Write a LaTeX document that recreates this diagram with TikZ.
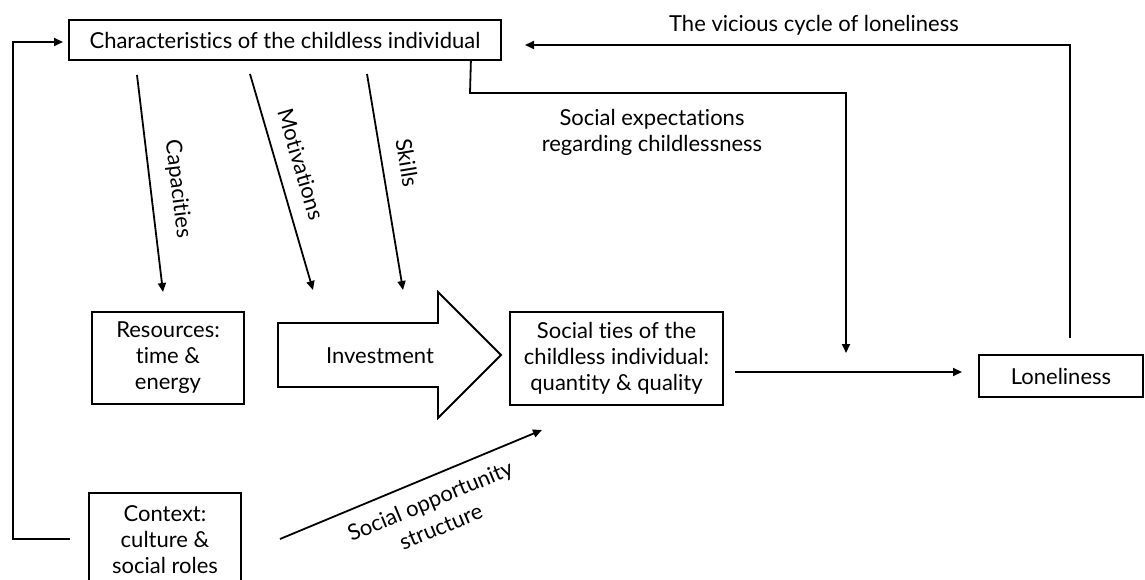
\documentclass[tikz,border=0pt]{standalone}
\usepackage{fontspec}
\setmainfont{Lato}[Ligatures=NoCommon]
\usetikzlibrary{arrows.meta,calc}
\newcommand\dfont{\fontsize{22}{26}\selectfont}

\begin{document}
\begin{tikzpicture}[x=1pt,y=-1pt,
  box/.style={draw, line width=1.8pt, align=center, inner sep=0pt, font=\dfont},
  lab/.style={inner sep=0pt, font=\dfont},
  arr/.style={-{Triangle[length=9pt,width=8pt]}, line width=1.8pt},
  plain/.style={line width=1.8pt}]

% canvas
\fill[white] (0,0) rectangle (1145,580);
\useasboundingbox (0,0) rectangle (1145,580);

% boxes
\node[box, minimum width=432, minimum height=40] (char) at (285,40)
  {Characteristics of the childless individual};
\node[box, minimum width=152, minimum height=92] (res) at (168,358)
  {Resources:\\time \&\\energy};
\node[box, minimum width=213, minimum height=93] (ties) at (616.5,358.5)
  {Social ties of the\\childless individual:\\quantity \& quality};
\node[box, minimum width=164, minimum height=42] (lone) at (1061,376)
  {Loneliness};
\node[box, minimum width=152, minimum height=94] (ctx) at (165,540)
  {Context:\\culture \&\\social roles};

% the broad investment arrow
\draw[plain, line join=miter] (278,323) -- (438,323) -- (438,292) -- (501,355)
  -- (438,418) -- (438,387) -- (278,387) -- cycle;
\node[lab] (inv) at (380,356) {Investment};

% free ends of the connectors
\coordinate (capA) at (137,75);   \coordinate (capB) at (163,292);
\coordinate (motA) at (250,74);   \coordinate (motB) at (313,290);
\coordinate (sklA) at (367,74);   \coordinate (sklB) at (403,290);
\coordinate (oppA) at (280,539);  \coordinate (oppB) at (542,430);
\coordinate (tiesOut) at (735,372); \coordinate (loneIn) at (962,372);
\coordinate (expIn) at (846,353);
\coordinate (loopOut) at (1070,338); \coordinate (loopIn) at (525,45);
\coordinate (ctxOut) at (70,539);  \coordinate (charIn) at (63,42);

% characteristics feeding the investment
\draw[arr] (capA) -- node[lab, sloped, above=16pt, pos=0.54] {Capacities} (capB);
\draw[arr] (motA) -- node[lab, sloped, above=15pt, pos=0.45] {Motivations} (motB);
\draw[arr] (sklA) -- node[lab, sloped, above=16pt, pos=0.43] {Skills} (sklB);

% social opportunity structure
\draw[arr] (oppA) -- node[lab, sloped, below=13pt, pos=0.54, align=center,
  font=\fontsize{22}{28}\selectfont]
  {Social opportunity\\structure} (oppB);

% ties to loneliness
\draw[arr] (tiesOut) -- (loneIn);

% social expectations
\draw[arr] ([xshift=-31pt]char.south east) -- (470,93) -| (expIn);
\node[lab, align=center] (expect) at (652,132)
  {Social expectations\\regarding childlessness};

% vicious cycle
\draw[arr] (loopOut) |- (loopIn);
\node[lab] (vicious) at (814,25) {The vicious cycle of loneliness};

% context back to characteristics
\draw[arr] (ctxOut) -- (13,539) |- (charIn);
\end{tikzpicture}
\end{document}
